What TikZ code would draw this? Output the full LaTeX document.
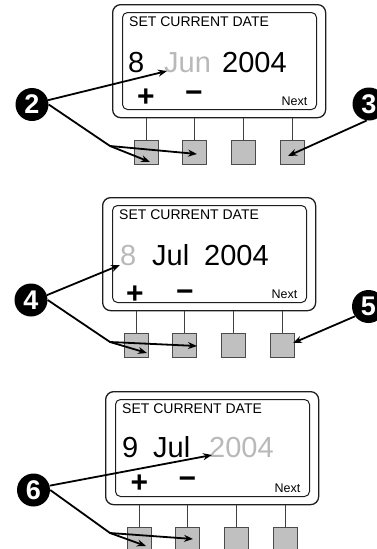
\documentclass[tikz,border=0pt]{standalone}
\usepackage{fontspec}
\setmainfont{Liberation Sans}
\usetikzlibrary{arrows.meta}
\definecolor{lcdgray}{RGB}{185,185,185}
\definecolor{btngray}{RGB}{192,192,192}
\definecolor{ink}{RGB}{30,30,30}
\tikzset{
 outerbox/.style={draw=ink, line width=1.3pt, rounded corners=8pt, fill=white, anchor=north west, minimum width=213pt, minimum height=113pt, inner sep=0},
 innerbox/.style={draw=ink, line width=1pt, rounded corners=5pt, anchor=north west, minimum width=194pt, minimum height=97pt, inner sep=0},
 btn/.style={draw=ink!80, line width=0.9pt, fill=btngray, minimum size=24pt, inner sep=0},
 stem/.style={draw=ink!85, line width=0.9pt},
 hdr/.style={anchor=base west, inner sep=0, font=\fontsize{14}{14}\selectfont},
 big/.style={anchor=base west, inner sep=0, font=\fontsize{29}{29}\selectfont},
 pm/.style={inner sep=0, font=\fontsize{30}{30}\selectfont\bfseries},
 nxt/.style={anchor=base east, inner sep=0, font=\fontsize{12.5}{12.5}\selectfont},
 numc/.style={circle, fill=black, minimum size=33pt, inner sep=0, text=white, font=\fontsize{27}{27}\selectfont\bfseries},
 arr/.style={draw=black, line width=1.8pt, line join=round, -{Stealth[length=9pt,width=7pt]}},
}
\newcommand{\lcdbody}[1]{%
 \node[outerbox] (#1frame) at (0,0) {};
 \node[innerbox] (#1screen) at (10,8) {};
 \node[hdr] (#1hdr) at (17,22.5) {SET CURRENT DATE};
 \node[nxt] (#1next) at (195.5,101.5) {Next};
 \foreach \i/\x in {1/34,2/82.5,3/131,4/180} {
   \node[btn] (#1b\i) at (\x,148) {};
   \draw[stem] (#1b\i.north) -- (#1b\i.north |- #1frame.south);
 }
}
\begin{document}
\begin{tikzpicture}[x=1pt,y=-1pt]
\useasboundingbox (0,0) rectangle (377,549);
% panel 1
\begin{scope}[shift={(112,4)}]
 \lcdbody{p1}
 \node[big] (p1day) at (16,68) {8};
 \node[big, text=lcdgray] (p1mon) at (52,68) {Jun};
 \node[big] (p1year) at (110,68) {2004};
 \node[pm] (p1plus) at (34,93.5) {+};
 \node[pm] (p1minus) at (82,93) {−};
\end{scope}
% panel 2
\begin{scope}[shift={(102,197)}]
 \lcdbody{p2}
 \node[big, text=lcdgray] (p2day) at (18,68) {8};
 \node[big] (p2mon) at (50,68) {Jul};
 \node[big] (p2year) at (102,68) {2004};
 \node[pm] (p2plus) at (33,98) {+};
 \node[pm] (p2minus) at (83,99) {−};
\end{scope}
% panel 3
\begin{scope}[shift={(105,391)}]
 \lcdbody{p3}
 \node[big] (p3day) at (17,66) {9};
 \node[big] (p3mon) at (48,66) {Jul};
 \node[big, text=lcdgray] (p3year) at (104,66) {2004};
 \node[pm] (p3plus) at (34.5,92.5) {+};
 \node[pm] (p3minus) at (82.5,92) {−};
\end{scope}
% callout numbers
\node[numc] (n2) at (32,104.5) {2};
\node[numc] (n3) at (369,104) {3};
\node[numc] (n4) at (31,300) {4};
\node[numc] (n5) at (368.5,306.5) {5};
\node[numc] (n6) at (33.5,490) {6};
% arrow targets
\coordinate (t2a) at (167,71);
\coordinate (k2) at (110,146);
\coordinate (t2b) at (150,162);
\coordinate (t2c) at (197,154);
\coordinate (t3) at (288,156);
\coordinate (t4a) at (120,265);
\coordinate (k4) at (110,342);
\coordinate (t4b) at (147,353);
\coordinate (t4c) at (197,346);
\coordinate (t5) at (293,343);
\coordinate (t6a) at (212,455);
\coordinate (k6) at (110,533);
\coordinate (t6b) at (146,546);
\coordinate (t6c) at (193,539);
% arrows
\draw[arr] (n2.15) -- (t2a);
\draw[arr] (n2.east) -- (k2) -- (t2b);
\draw[arr] (k2) -- (t2c);
\draw[arr] (n3.262) -- (t3);
\draw[arr] (n4.17) -- (t4a);
\draw[arr] (n4.east) -- (k4) -- (t4b);
\draw[arr] (k4) -- (t4c);
\draw[arr] (n5.216) -- (t5);
\draw[arr] (n6.15) -- (t6a);
\draw[arr] (n6.east) -- (k6) -- (t6b);
\draw[arr] (k6) -- (t6c);
\end{tikzpicture}
\end{document}
